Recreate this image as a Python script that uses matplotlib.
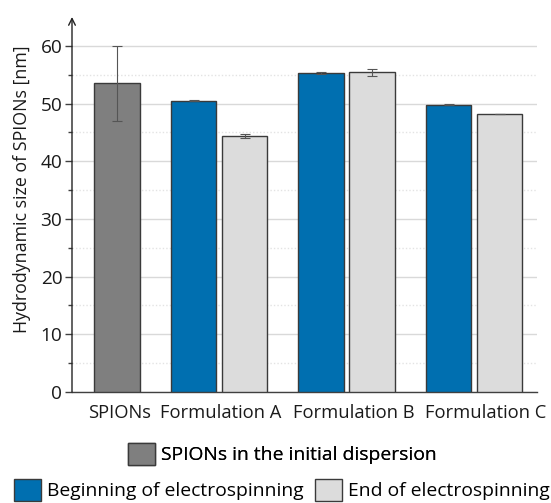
import matplotlib
matplotlib.use("Agg")
import matplotlib.pyplot as plt
from matplotlib.patches import Patch
import numpy as np

plt.rcParams['font.family'] = ['Open Sans', 'DejaVu Sans']

categories = ["SPIONs", "Formulation A", "Formulation B", "Formulation C"]
spion_value = [53.5]
spion_err = [6.5]
begin_values = [50.5, 55.3, 49.8]
begin_err = [0.1, 0.1, 0.1]
end_values = [44.4, 55.4, 48.2]
end_err = [0.3, 0.6, 0.05]
legend_labels = ["SPIONs in the initial dispersion",
                 "Beginning of electrospinning",
                 "End of electrospinning"]

c_gray = "#7F7F7F"
c_blue = "#006FB0"
c_light = "#DCDCDC"
edge = "#3A3A3A"
errc = "#555555"
txt = "#1a1a1a"

fig = plt.figure(figsize=(5.51, 5.03), dpi=100)
ax = fig.add_axes([72/551, 1-392/503, (537-72)/551, (392-17)/503])

width = 0.36
off = 0.2
gx = np.array([0.8, 1.8, 2.8])
ekw = dict(ecolor=errc, elinewidth=0.8, capsize=3.5, capthick=0.8)
ax.bar([0.0], spion_value, width, yerr=spion_err, color=c_gray, edgecolor=edge,
       linewidth=1.0, error_kw=ekw, zorder=3)
ax.bar(gx - off, begin_values, width, yerr=begin_err, color=c_blue, edgecolor=edge,
       linewidth=1.0, error_kw=ekw, zorder=3)
ax.bar(gx + off, end_values, width, yerr=end_err, color=c_light, edgecolor=edge,
       linewidth=1.0, error_kw=ekw, zorder=3)

ax.set_xlim(-0.353, 3.294)
ax.set_ylim(0, 65)
ax.set_yticks(np.arange(0, 61, 10))
ax.set_yticks(np.arange(5, 61, 10), minor=True)
ax.yaxis.grid(True, which='major', color="#D9D9D9", linewidth=1.0, zorder=0)
ax.yaxis.grid(True, which='minor', color="#E3E3E3", linewidth=1.0, linestyle=(0, (1, 1.5)), zorder=0)
ax.set_axisbelow(True)

label_pos = [0.02, gx[0] + 0.01, gx[1] + 0.06, gx[2] + 0.09]
ax.set_xticks(label_pos)
ax.set_xticklabels(categories, fontsize=13.2, color=txt)
ax.tick_params(axis='x', length=0, pad=9)
ax.tick_params(axis='y', which='major', length=5, width=1, color="#404040",
               labelsize=13.7, labelcolor=txt, pad=2)
ax.tick_params(axis='y', which='minor', length=3, width=1, color="#404040")

for s in ['top', 'right', 'left']:
    ax.spines[s].set_visible(False)
ax.spines['bottom'].set_color("#404040")
ax.spines['bottom'].set_linewidth(1.0)
ax.annotate('', xy=(0, 1.0), xycoords='axes fraction', xytext=(0, 0),
            arrowprops=dict(arrowstyle='->', color='#222222', lw=1.0,
                            shrinkA=0, shrinkB=0, mutation_scale=12))

ax.set_ylabel("Hydrodynamic size of SPIONs [nm]", fontsize=12.8, color=txt)
ax.yaxis.set_label_coords((31-72)/465, (392-189)/375)

h1 = [Patch(facecolor=c_gray, edgecolor=edge, linewidth=1.0)]
h2 = [Patch(facecolor=c_blue, edgecolor=edge, linewidth=1.0),
      Patch(facecolor=c_light, edgecolor=edge, linewidth=1.0)]
leg1 = fig.legend(h1, legend_labels[:1], loc='center', bbox_to_anchor=(282/551, 1-454/503),
                  frameon=False, fontsize=13.9, handlelength=1.4, handleheight=1.4,
                  handletextpad=0.3, borderpad=0)
leg2 = fig.legend(h2, legend_labels[1:], loc='center', bbox_to_anchor=(282/551, 1-490/503),
                  ncol=2, frameon=False, fontsize=13.9, handlelength=1.4, handleheight=1.4,
                  handletextpad=0.3, columnspacing=0.6, borderpad=0)
fig.add_artist(leg1)

fig.savefig("out.png", dpi=100)
